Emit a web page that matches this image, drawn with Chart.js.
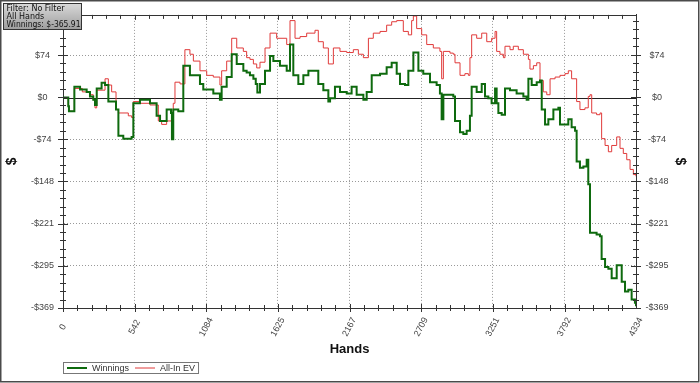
<!DOCTYPE html>
<html>
<head>
<meta charset="utf-8">
<script src="https://cdn.jsdelivr.net/npm/chart.js@4.4.1/dist/chart.umd.min.js"></script>
<style>
  html, body { margin: 0; padding: 0; background: #fff; }
  #wrap { width: 700px; height: 383px; }
</style>
</head>
<body>
<div id="wrap"><canvas id="myChart" width="700" height="383"></canvas></div>
<script>
// hands / value pairs
const winHands = [0, 15, 40, 45, 71, 86, 129, 179, 204, 229, 242, 255, 292, 318, 343, 368, 401, 419, 456, 519,
  532, 582, 658, 708, 734, 771, 784, 817, 824, 834, 872, 910, 960, 1011, 1036, 1061, 1137, 1187, 1200, 1238,
  1276, 1314, 1339, 1364, 1389, 1414, 1440, 1458, 1470, 1490, 1528, 1566, 1591, 1641, 1692, 1717, 1742, 1780,
  1818, 1856, 1906, 1931, 1969, 2007, 2020, 2057, 2095, 2146, 2183, 2221, 2272, 2297, 2335, 2398, 2448, 2486,
  2524, 2549, 2587, 2612, 2650, 2688, 2725, 2776, 2826, 2851, 2864, 2877, 2927, 2952, 2965, 3003, 3028, 3053,
  3078, 3091, 3129, 3167, 3192, 3217, 3242, 3268, 3280, 3293, 3318, 3343, 3381, 3431, 3482, 3507, 3520, 3545,
  3583, 3608, 3621, 3646, 3671, 3709, 3747, 3759, 3797, 3822, 3847, 3873, 3885, 3910, 3936, 3961, 3973, 3986,
  4036, 4062, 4074, 4100, 4125, 4150, 4188, 4226, 4251, 4276, 4301, 4326, 4334];
const winnings = [0, 0, -15, -24, -24, 19, 14, 10, 2, -4, -13, 16, 26, 22, -7, -7, -21, -67, -72, -69,
  -10, -4, -10, -32, -41, -41, -21, -27, -73, -21, -24, 56, 39, 39, 24, 14, 7, -4, 19, 36,
  76, 59, 59, 47, 44, 39, 33, 24, 9, 24, 47, 73, 64, 56, 47, 93, 39, 24,
  39, 47, 47, 24, 13, -7, -1, 19, 10, 7, 19, 5, -4, 10, 39, 42, 53, 61,
  42, 24, 22, 47, 79, 47, 42, 27, 22, 7, -38, 5, 5, 2, -41, -61, -64, -58,
  -32, 19, 10, 24, 2, -1, -10, 16, -10, -27, -30, 16, 13, 7, 2, -4, 33, 22,
  27, 30, -21, -47, -38, -21, -18, -47, -47, -38, -52, -58, -112, -123, -121, -109, -152, -237,
  -240, -243, -283, -297, -300, -317, -294, -323, -340, -337, -354, -360, -366];

const evHands = [0, 15, 40, 45, 71, 86, 146, 204, 229, 242, 255, 318, 343, 368, 401, 419, 494, 519, 532, 582,
  658, 721, 746, 784, 834, 847, 885, 922, 960, 986, 1036, 1087, 1137, 1187, 1200, 1238, 1276, 1314, 1339, 1364,
  1389, 1414, 1440, 1465, 1490, 1528, 1566, 1616, 1692, 1717, 1755, 1793, 1843, 1906, 1931, 1969, 2007, 2045,
  2095, 2146, 2196, 2234, 2272, 2310, 2347, 2398, 2448, 2486, 2524, 2574, 2612, 2637, 2650, 2675, 2713, 2751,
  2801, 2851, 2864, 2877, 2927, 2952, 2965, 3003, 3040, 3066, 3078, 3091, 3129, 3167, 3205, 3242, 3268, 3280,
  3305, 3331, 3343, 3381, 3406, 3444, 3482, 3520, 3532, 3558, 3583, 3608, 3633, 3659, 3684, 3722, 3759, 3797,
  3822, 3847, 3885, 3910, 3948, 3973, 3986, 3999, 4036, 4062, 4074, 4100, 4125, 4150, 4188, 4213, 4238, 4264,
  4289, 4314, 4334];
const allInEv = [0, 0, -15, -24, -24, 16, 10, 5, -4, -18, 13, 33, 22, 10, -21, -27, -32, -35, -7, -10,
  -13, -41, -47, -41, -10, 27, 24, 84, 76, 64, 47, 39, 36, 22, 47, 64, 104, 87, 87, 81,
  70, 67, 59, 52, 62, 87, 113, 104, 93, 135, 104, 107, 113, 118, 98, 87, 59, 87,
  81, 79, 84, 76, 70, 104, 113, 116, 127, 133, 135, 116, 110, 135, 143, 121, 110, 93,
  87, 81, 33, 81, 78, 76, 61, 39, 42, 39, 70, 110, 104, 113, 98, 104, 116, 81,
  76, 70, 90, 84, 90, 84, 76, 67, 50, 56, 61, 30, 10, 5, 33, 36, 39, 42,
  47, 33, -7, -21, -18, 2, 5, -27, -30, -27, -72, -84, -95, -84, -69, -89, -98, -109,
  -126, -135, -138];

const xTicks = [0, 542, 1084, 1625, 2167, 2709, 3251, 3792, 4334];
const yTicks = [-369, -295, -221, -148, -74, 0, 74];
const infoLines = ['Filter: No Filter', 'All Hands', 'Winnings: $-365.91'];

const xMin = 0, xMax = 4334, yMin = -369, yMax = 145;

function money(v) {
  const r = Math.round(v);
  return r < 0 ? '-$' + (-r) : '$' + r;
}

function toPoints(xs, ys) {
  return xs.map((h, i) => ({x: h, y: ys[i]}));
}

const tickFont = {family: 'Liberation Sans', size: 9};

const decor = {
  id: 'decor',
  beforeDatasetsDraw(chart) {
    const {ctx, chartArea: a, scales} = chart;
    const y0 = Math.round(scales.y.getPixelForValue(0)) + 0.5;
    ctx.save();
    ctx.strokeStyle = '#222';
    ctx.lineWidth = 1;
    ctx.beginPath();
    ctx.moveTo(a.left, y0);
    ctx.lineTo(a.right, y0);
    ctx.stroke();
    ctx.restore();
  },
  afterDraw(chart) {
    const {ctx, chartArea: a, scales} = chart;
    const x = scales.x, y = scales.y;
    ctx.save();

    // top border of the plot
    ctx.strokeStyle = '#333';
    ctx.lineWidth = 1;
    ctx.beginPath();
    ctx.moveTo(a.left, Math.round(a.top) + 0.5);
    ctx.lineTo(a.right, Math.round(a.top) + 0.5);
    ctx.stroke();

    // major + minor tick marks
    ctx.beginPath();
    const xStep = (xTicks[1] - xTicks[0]) / 5;
    for (let i = 0; xMin + i * xStep <= xMax + 1; i++) {
      const px = Math.round(x.getPixelForValue(xMin + i * xStep)) + 0.5;
      const len = i % 5 === 0 ? 4 : 3;
      ctx.moveTo(px, a.bottom - len);
      ctx.lineTo(px, a.bottom + len);
      ctx.moveTo(px, a.top);
      ctx.lineTo(px, a.top + len + 1);
    }
    const yStep = (yTicks[1] - yTicks[0]) / 5;
    for (let i = 0; yMin + i * yStep <= yMax; i++) {
      const py = Math.round(y.getPixelForValue(yMin + i * yStep)) + 0.5;
      const len = i % 5 === 0 ? 5 : 3;
      ctx.moveTo(a.left - len, py);
      ctx.lineTo(a.left + len, py);
      ctx.moveTo(a.right - len, py);
      ctx.lineTo(a.right + len, py);
    }
    ctx.stroke();

    // rotated x labels, centred under each tick
    ctx.fillStyle = '#444';
    ctx.font = '9px "Liberation Sans"';
    ctx.textAlign = 'center';
    ctx.textBaseline = 'middle';
    xTicks.forEach(v => {
      ctx.save();
      ctx.translate(x.getPixelForValue(v), a.bottom + 19);
      ctx.rotate(-62 * Math.PI / 180);
      ctx.fillText(String(v), 0, 0);
      ctx.restore();
    });

    // legend box
    ctx.textAlign = 'left';
    ctx.fillStyle = '#333';
    let cx = a.left + 4;
    const ly = 368;
    const startX = cx;
    chart.data.datasets.forEach(ds => {
      ctx.strokeStyle = ds.borderColor;
      ctx.lineWidth = ds.borderWidth;
      ctx.beginPath();
      ctx.moveTo(cx, ly);
      ctx.lineTo(cx + 20, ly);
      ctx.stroke();
      cx += 25;
      ctx.fillText(ds.label, cx, ly + 0.5);
      cx += ctx.measureText(ds.label).width + 6;
    });
    ctx.strokeStyle = '#777';
    ctx.lineWidth = 1;
    ctx.strokeRect(Math.round(a.left) + 0.5, 362.5, cx - startX + 1, 11);

    // info box, top left
    const g = ctx.createLinearGradient(0, 3, 0, 30);
    g.addColorStop(0, '#dadada');
    g.addColorStop(1, '#9c9c9c');
    ctx.fillStyle = g;
    ctx.fillRect(3.5, 3.5, 78, 26);
    ctx.strokeStyle = '#333';
    ctx.strokeRect(3.5, 3.5, 78, 26);
    ctx.fillStyle = '#111';
    ctx.font = '8px "DejaVu Sans"';
    infoLines.forEach((t, i) => ctx.fillText(t, 6.5, 8.5 + i * 8.3, 74));

    // outer frame
    ctx.strokeStyle = '#4a4a4a';
    ctx.lineWidth = 1.5;
    ctx.strokeRect(0.75, 0.75, 698, 381);
    ctx.restore();
  }
};

const yAxisBase = {
  type: 'linear',
  min: yMin,
  max: yMax,
  afterBuildTicks: s => { s.ticks = yTicks.map(v => ({value: v})); },
  ticks: {
    callback: v => money(v),
    font: tickFont,
    color: '#444',
    crossAlign: 'center',
    padding: 9
  },
  border: {display: true, color: '#333', width: 1, dash: [1, 2]},
};

const ctx = document.getElementById('myChart').getContext('2d');
new Chart(ctx, {
  type: 'line',
  data: {
    datasets: [
      {
        label: 'Winnings',
        data: toPoints(winHands, winnings),
        borderColor: '#0e6a0e',
        borderWidth: 2,
        pointRadius: 0,
        stepped: true
      },
      {
        label: 'All-In EV',
        data: toPoints(evHands, allInEv),
        borderColor: '#e03a3a',
        borderWidth: 1,
        pointRadius: 0,
        stepped: true
      }
    ]
  },
  options: {
    responsive: false,
    animation: false,
    devicePixelRatio: 1,
    layout: {padding: {top: 10, left: 0, right: 0, bottom: 0}},
    plugins: {legend: {display: false}, tooltip: {enabled: false}},
    scales: {
      x: {
        type: 'linear',
        min: xMin,
        max: xMax,
        afterBuildTicks: s => { s.ticks = xTicks.map(v => ({value: v})); },
        afterFit: s => { s.height = 75; },
        ticks: {display: false},
        grid: {color: '#999', drawTicks: false},
        border: {display: true, color: '#333', width: 1, dash: [1, 2]},
        title: {
          display: true,
          text: 'Hands',
          color: '#111',
          font: {family: 'Liberation Sans', size: 13, weight: 'bold'},
          padding: {top: 0, bottom: 26}
        }
      },
      y: Object.assign({}, yAxisBase, {
        position: 'left',
        afterFit: s => { s.width = 63; },
        grid: {
          color: c => (c.tick && c.tick.value === 0) ? 'rgba(0,0,0,0)' : '#999',
          drawTicks: false
        },
        title: {
          display: true,
          text: '$',
          color: '#111',
          font: {family: 'Liberation Sans', size: 14, weight: 'bold'},
          padding: {top: 4, bottom: 0}
        }
      }),
      y2: Object.assign({}, yAxisBase, {
        position: 'right',
        afterFit: s => { s.width = 64; },
        ticks: Object.assign({}, yAxisBase.ticks, {padding: 9.5}),
        grid: {drawOnChartArea: false, drawTicks: false},
        title: {
          display: true,
          text: '$',
          color: '#111',
          font: {family: 'Liberation Sans', size: 14, weight: 'bold'},
          padding: {top: 11.6, bottom: 0}
        }
      })
    }
  },
  plugins: [decor]
});
</script>
</body>
</html>
